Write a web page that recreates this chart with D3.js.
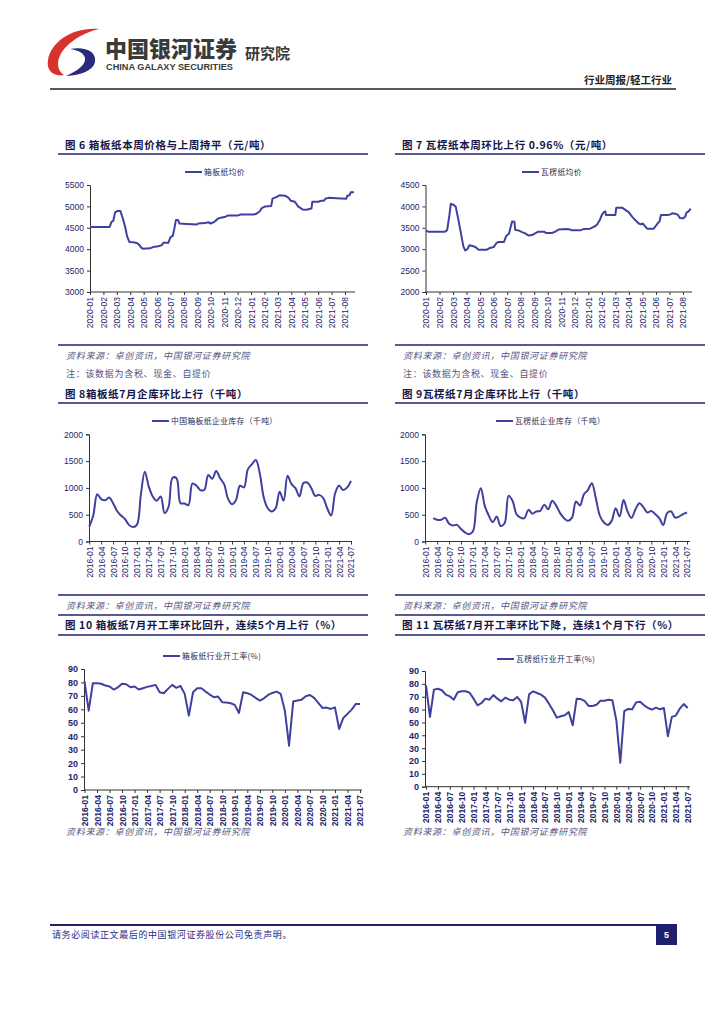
<!DOCTYPE html>
<html><head><meta charset="utf-8">
<script src="https://cdn.jsdelivr.net/npm/d3@7"></script>
<style>
body{margin:0;background:#fff;}
svg{display:block;}
</style></head><body>
<svg id="page" width="724" height="1024"></svg>
<script>
// ---------------- DATA ----------------
const priceTickLabels = ["2020-01","2020-02","2020-03","2020-04","2020-05","2020-06","2020-07","2020-08","2020-09","2020-10","2020-11","2020-12","2021-01","2021-02","2021-03","2021-04","2021-05","2021-06","2021-07","2021-08"];

const boxPriceDates = ["2020-01-01","2020-02-15","2020-02-19","2020-02-23","2020-02-27","2020-03-02","2020-03-09","2020-03-15","2020-03-20","2020-03-24","2020-03-29","2020-04-08","2020-04-17","2020-04-21","2020-04-26","2020-04-30","2020-05-15","2020-05-22","2020-06-03","2020-06-11","2020-06-15","2020-06-26","2020-07-01","2020-07-06","2020-07-09","2020-07-13","2020-07-18","2020-07-21","2020-08-07","2020-08-30","2020-09-03","2020-09-18","2020-09-25","2020-10-01","2020-10-09","2020-10-18","2020-10-26","2020-11-04","2020-11-10","2020-12-02","2020-12-08","2021-01-07","2021-01-13","2021-01-20","2021-01-25","2021-02-03","2021-02-16","2021-02-19","2021-02-26","2021-03-05","2021-03-17","2021-03-25","2021-03-30","2021-04-09","2021-04-16","2021-04-26","2021-05-05","2021-05-16","2021-05-18","2021-06-01","2021-06-08","2021-06-14","2021-06-17","2021-06-24","2021-07-12","2021-08-04","2021-08-06","2021-08-11","2021-08-14","2021-08-21"];
const boxPrice = [4520,4520,4640,4660,4860,4890,4890,4700,4500,4300,4170,4160,4140,4100,4030,4010,4020,4050,4070,4090,4150,4150,4280,4310,4450,4680,4680,4600,4590,4580,4600,4610,4630,4600,4640,4720,4740,4760,4790,4790,4810,4810,4830,4880,4960,5000,5010,5180,5210,5260,5250,5200,5130,5110,5000,4930,4920,4950,5110,5110,5130,5130,5180,5200,5190,5180,5250,5260,5330,5330];

const corrPriceDates = ["2020-01-01","2020-01-06","2020-02-13","2020-02-15","2020-02-18","2020-02-23","2020-02-26","2020-03-02","2020-03-07","2020-03-13","2020-03-19","2020-03-24","2020-03-28","2020-04-03","2020-04-07","2020-04-16","2020-04-22","2020-04-27","2020-05-16","2020-05-23","2020-05-31","2020-06-07","2020-06-12","2020-06-24","2020-06-29","2020-07-05","2020-07-09","2020-07-12","2020-07-17","2020-07-19","2020-07-26","2020-08-04","2020-08-11","2020-08-18","2020-08-26","2020-09-03","2020-09-10","2020-09-23","2020-09-27","2020-10-10","2020-10-18","2020-10-25","2020-11-13","2020-11-21","2020-11-24","2020-12-13","2020-12-20","2021-01-05","2021-01-13","2021-01-20","2021-01-26","2021-02-01","2021-02-06","2021-02-09","2021-02-10","2021-03-01","2021-03-03","2021-03-16","2021-03-23","2021-03-31","2021-04-08","2021-04-15","2021-04-23","2021-04-28","2021-05-02","2021-05-08","2021-05-12","2021-05-26","2021-06-02","2021-06-06","2021-06-09","2021-06-12","2021-06-26","2021-07-03","2021-07-07","2021-07-14","2021-07-20","2021-07-24","2021-08-01","2021-08-06","2021-08-09","2021-08-13","2021-08-18"];
const corrPrice = [3430,3410,3410,3420,3450,3800,4060,4040,3990,3680,3340,3060,2970,3000,3090,3070,3040,2990,2990,3030,3050,3140,3170,3170,3310,3360,3530,3650,3640,3450,3440,3400,3370,3320,3330,3370,3410,3410,3380,3380,3410,3460,3470,3460,3440,3440,3470,3480,3520,3570,3670,3800,3870,3880,3800,3800,3970,3970,3920,3860,3760,3680,3600,3580,3600,3520,3480,3480,3560,3620,3650,3800,3800,3810,3840,3830,3800,3730,3720,3760,3860,3880,3950];

const monthTickLabels = ["2016-01","2016-04","2016-07","2016-10","2017-01","2017-04","2017-07","2017-10","2018-01","2018-04","2018-07","2018-10","2019-01","2019-04","2019-07","2019-10","2020-01","2020-04","2020-07","2020-10","2021-01","2021-04","2021-07"];

const boxInventory = [280,485,880,790,770,820,715,570,485,420,310,270,310,870,1300,1025,840,760,840,530,650,1190,1180,715,710,680,1080,1045,960,960,1240,1170,1315,1180,1070,795,695,775,1040,1010,1350,1440,1520,1270,820,620,560,620,930,760,1225,1070,995,840,1090,1100,995,850,870,810,620,485,900,1045,960,1005,1130];
const corrInventory = [null,null,435,405,405,445,330,300,310,235,170,135,185,745,995,665,485,360,465,290,340,855,760,510,445,435,590,520,560,570,685,600,760,670,530,435,385,445,745,670,880,960,1085,810,485,360,310,385,620,465,775,560,440,600,715,640,540,570,510,435,310,530,560,445,465,510,540];

const boxRate = [81,59,79.4,79.4,79,77.7,77,74.7,76.4,79,78.7,76.4,77,74.7,75.7,76.7,77.4,78.2,72.7,72,75.2,78.2,76,77.4,71.5,55.3,72.7,75.7,75.7,73.2,71,69,69.5,65.3,65,64.5,63.3,57.3,72.7,72,70.7,68.5,66.5,68.2,70.7,72.2,73.2,71.5,59,33,65.8,66.5,67.2,69.7,70.7,68.5,64.8,61,61.3,60.3,61.5,45.4,53.6,56.6,59.8,64,64];
const corrRate = [78.8,54.3,75.5,76.2,75,71.6,70.3,67.7,73.4,74.2,74.2,73.1,68.5,63.3,65.1,68.5,67.7,71.3,68.5,66.4,69.3,67.7,67.2,69.8,65.9,49.6,71.8,74.2,72.9,71.6,69.3,64.6,59.4,53.7,54.8,55.6,58.1,47.8,68.5,68.2,66.7,62.8,62.8,63.8,66.9,66.9,67.7,67.2,51.7,18.6,58.7,60.5,60.2,65.6,66.1,63.3,61.2,59.9,61.5,60.2,61.2,39.3,54.3,55.3,60.7,64.3,61.2];

const priceYTicksBox = [3000,3500,4000,4500,5000,5500];
const priceYTicksCorr = [2000,2500,3000,3500,4000,4500];
const invYTicks = [0,500,1000,1500,2000];
const rateYTicks = [0,10,20,30,40,50,60,70,80,90];

// ---------------- STYLE ----------------
const NAVY = "#23236e";
const SERIES = "#40409e";
const LABEL = "#1e1e6a";
const CJK = "'Noto Sans CJK SC', sans-serif";
const LAT = "'Liberation Sans', Arial, sans-serif";

const svg = d3.select("#page");
svg.append("rect").attr("width",724).attr("height",1024).attr("fill","#fff");

// ---------------- HEADER ----------------
svg.append("path").attr("fill","#d8322c")
  .attr("d","M99,29 C72,27 51,42 48,60 C46,71 54,77 64,75 C56,70 56,58 65,48 C73,39 86,32 99,29 Z");
svg.append("path").attr("fill","#2a2a7a")
  .attr("d","M70,49 C84,46 97,51 95,62 C93,71 81,75 66,76 C77,71 86,65 85,58 C84,53 78,50 70,49 Z");
svg.append("text").attr("x",105).attr("y",57).attr("font-family",CJK).attr("font-weight",900)
  .attr("font-size",22).attr("fill","#3a3a3a").text("中国银河证券");
svg.append("text").attr("x",106).attr("y",70).attr("font-family",LAT).attr("font-weight","bold")
  .attr("font-size",9.5).attr("fill","#3a3a3a").attr("textLength",127).attr("lengthAdjust","spacingAndGlyphs")
  .text("CHINA GALAXY SECURITIES");
svg.append("text").attr("x",245).attr("y",59).attr("font-family",CJK).attr("font-weight",700)
  .attr("font-size",15).attr("fill","#3a3a3a").text("研究院");
svg.append("text").attr("x",672).attr("y",84).attr("text-anchor","end").attr("font-family",CJK).attr("font-weight",700)
  .attr("font-size",10.5).attr("fill","#222").text("行业周报/轻工行业");
svg.append("line").attr("x1",50).attr("x2",676).attr("y1",89).attr("y2",89).attr("stroke","#222").attr("stroke-width",1.5);

// ---------------- HELPERS ----------------
function hline(x1,x2,y){
  svg.append("line").attr("x1",x1).attr("x2",x2).attr("y1",y).attr("y2",y).attr("stroke",NAVY).attr("stroke-width",1.5);
}
function title(x,y,t){
  svg.append("text").attr("x",x).attr("y",y).attr("font-family",CJK).attr("font-weight",700)
    .attr("font-size",10.5).attr("letter-spacing",0.6).attr("fill","#15154a").text(t);
}
function note(x,y,t,italic){
  svg.append("text").attr("x",x).attr("y",y).attr("font-family",CJK)
    .attr("font-style",italic?"italic":"normal").attr("font-size",9).attr("letter-spacing",0.7)
    .attr("fill","#55557f").text(t);
}
function monthIndex(s){
  const [Y,M,D] = s.split("-").map(Number);
  return (Y-2020)*12 + (M-1) + (D-1)/30;
}

function drawChart(c){
  const g = svg.append("g");
  const x = d3.scaleLinear().domain(c.xDomain).range(c.xRange);
  const y = d3.scaleLinear().domain(c.yDomain).range([c.yBottom,c.yTop]);
  // y axis
  const ya = g.append("g").attr("transform",`translate(${c.axisX},0)`)
    .call(d3.axisLeft(y).tickValues(c.yTicks).tickSize(3).tickPadding(3).tickFormat(d=>d));
  ya.select(".domain").attr("stroke","#333");
  ya.selectAll(".tick line").attr("stroke","#333");
  ya.selectAll("text").attr("font-family",LAT).attr("font-size",c.yFont||8.5)
    .attr("font-weight",c.bold?"bold":"normal").attr("fill",LABEL);
  // x axis
  const xa = g.append("g").attr("transform",`translate(0,${c.yBottom})`)
    .call(d3.axisBottom(x).tickValues(c.xTickVals).tickSize(3).tickFormat((d,i)=>c.xTickLabels[i]));
  xa.select(".domain").remove();
  xa.selectAll(".tick line").attr("stroke","#333");
  xa.selectAll("text").attr("font-family",LAT).attr("font-size",c.xFont||8.5)
    .attr("font-weight",c.bold?"bold":"normal").attr("fill",LABEL)
    .attr("transform","rotate(-90)").attr("text-anchor","end")
    .attr("x",-5).attr("y",0).attr("dy","0.35em");
  g.append("line").attr("x1",c.axisX).attr("x2",c.axisEnd).attr("y1",c.yBottom).attr("y2",c.yBottom)
    .attr("stroke","#333").attr("stroke-width",1);
  // series
  const line = d3.line().defined(d=>d.v!=null).x(d=>x(d.x)).y(d=>y(d.v)).curve(c.curve||d3.curveLinear);
  g.append("path").datum(c.data).attr("d",line).attr("fill","none").attr("stroke",SERIES)
    .attr("stroke-width",2).attr("stroke-linejoin","round");
  // legend
  g.append("line").attr("x1",c.legX).attr("x2",c.legX+17).attr("y1",c.legY).attr("y2",c.legY)
    .attr("stroke",SERIES).attr("stroke-width",2);
  g.append("text").attr("x",c.legX+19).attr("y",c.legY+3).attr("font-family",CJK).attr("font-size",7.8)
    .attr("letter-spacing",0.4).attr("fill","#2a2a55").text(c.legend);
}

const idx = d3.range(67);

// ---------------- ROW 1 ----------------
title(65,149,"图 6 箱板纸本周价格与上周持平（元/吨）");
hline(58,368,154);
title(402,149,"图 7 瓦楞纸本周环比上行 0.96%（元/吨）");
hline(395,705,154);

drawChart({
  xDomain:[0,19], xRange:[90,345], yDomain:[3000,5500], yTop:185, yBottom:292,
  axisX:90, axisEnd:355, yTicks:priceYTicksBox,
  xTickVals:d3.range(20), xTickLabels:priceTickLabels,
  data: boxPriceDates.map((d,i)=>({x:monthIndex(d), v:boxPrice[i]})),
  legX:185, legY:172, legend:"箱板纸均价"
});
drawChart({
  xDomain:[0,19], xRange:[426,683], yDomain:[2000,4500], yTop:185, yBottom:292,
  axisX:425.5, axisEnd:692, yTicks:priceYTicksCorr,
  xTickVals:d3.range(20), xTickLabels:priceTickLabels,
  data: corrPriceDates.map((d,i)=>({x:monthIndex(d), v:corrPrice[i]})),
  legX:522, legY:172, legend:"瓦楞纸均价"
});

// ---------------- ROW 2 ----------------
hline(58,368,345);
note(66,359,"资料来源：卓创资讯，中国银河证券研究院",true);
note(66,377,"注：该数据为含税、现金、自提价",false);
title(65,398,"图 8箱板纸7月企库环比上行（千吨）");
hline(58,368,403);

hline(395,705,345);
note(403,359,"资料来源：卓创资讯，中国银河证券研究院",true);
note(403,377,"注：该数据为含税、现金、自提价",false);
title(402,398,"图 9瓦楞纸7月企库环比上行（千吨）");
hline(395,705,403);

drawChart({
  xDomain:[0,66], xRange:[89.3,351], yDomain:[0,2000], yTop:434.3, yBottom:541.5,
  axisX:89, axisEnd:352, yTicks:invYTicks,
  xTickVals:d3.range(0,67,3), xTickLabels:monthTickLabels,
  data: idx.map(i=>({x:i, v:boxInventory[i]})), curve:d3.curveCatmullRom.alpha(0.5),
  legX:152, legY:421, legend:"中国箱板纸企业库存（千吨）"
});
drawChart({
  xDomain:[0,66], xRange:[425.3,687], yDomain:[0,2000], yTop:434.3, yBottom:541.5,
  axisX:425, axisEnd:690, yTicks:invYTicks,
  xTickVals:d3.range(0,67,3), xTickLabels:monthTickLabels,
  data: idx.map(i=>({x:i, v:corrInventory[i]})), curve:d3.curveCatmullRom.alpha(0.5),
  legX:496, legY:421, legend:"瓦楞纸企业库存（千吨）"
});

// ---------------- ROW 3 ----------------
hline(58,368,595);
note(66,609,"资料来源：卓创资讯，中国银河证券研究院",true);
hline(58,368,615);
title(65,629,"图 10 箱板纸7月开工率环比回升，连续5个月上行（%）");
hline(58,368,635);

hline(395,705,595);
note(403,609,"资料来源：卓创资讯，中国银河证券研究院",true);
hline(395,705,615);
title(402,629,"图 11 瓦楞纸7月开工率环比下降，连续1个月下行（%）");
hline(395,705,635);

drawChart({
  xDomain:[0,66], xRange:[84.5,360], yDomain:[0,90], yTop:669, yBottom:790,
  axisX:84, axisEnd:362, yTicks:rateYTicks, bold:true, yFont:9,
  xTickVals:d3.range(0,67,3), xTickLabels:monthTickLabels,
  data: idx.map(i=>({x:i, v:boxRate[i]})),
  legX:163, legY:656, legend:"箱板纸行业开工率(%)"
});
drawChart({
  xDomain:[0,66], xRange:[426,687.7], yDomain:[0,90], yTop:671, yBottom:786.7,
  axisX:425, axisEnd:690, yTicks:rateYTicks, bold:true, yFont:9,
  xTickVals:d3.range(0,67,3), xTickLabels:monthTickLabels,
  data: idx.map(i=>({x:i, v:corrRate[i]})),
  legX:497, legY:659, legend:"瓦楞纸行业开工率(%)"
});

// sources row 3
note(66,835,"资料来源：卓创资讯，中国银河证券研究院",true);
note(403,835,"资料来源：卓创资讯，中国银河证券研究院",true);

// ---------------- FOOTER ----------------
svg.append("line").attr("x1",50).attr("x2",657).attr("y1",925).attr("y2",925).attr("stroke",NAVY).attr("stroke-width",2);
svg.append("rect").attr("x",656).attr("y",924).attr("width",21).attr("height",21).attr("fill","#1f1f70");
svg.append("text").attr("x",666.5).attr("y",938).attr("text-anchor","middle").attr("font-family",LAT)
  .attr("font-weight","bold").attr("font-size",9).attr("fill","#fff").text("5");
svg.append("text").attr("x",52).attr("y",938).attr("font-family",CJK).attr("font-size",9)
  .attr("letter-spacing",0.6).attr("fill","#2a2a80").text("请务必阅读正文最后的中国银河证券股份公司免责声明。");
</script>
</body></html>
